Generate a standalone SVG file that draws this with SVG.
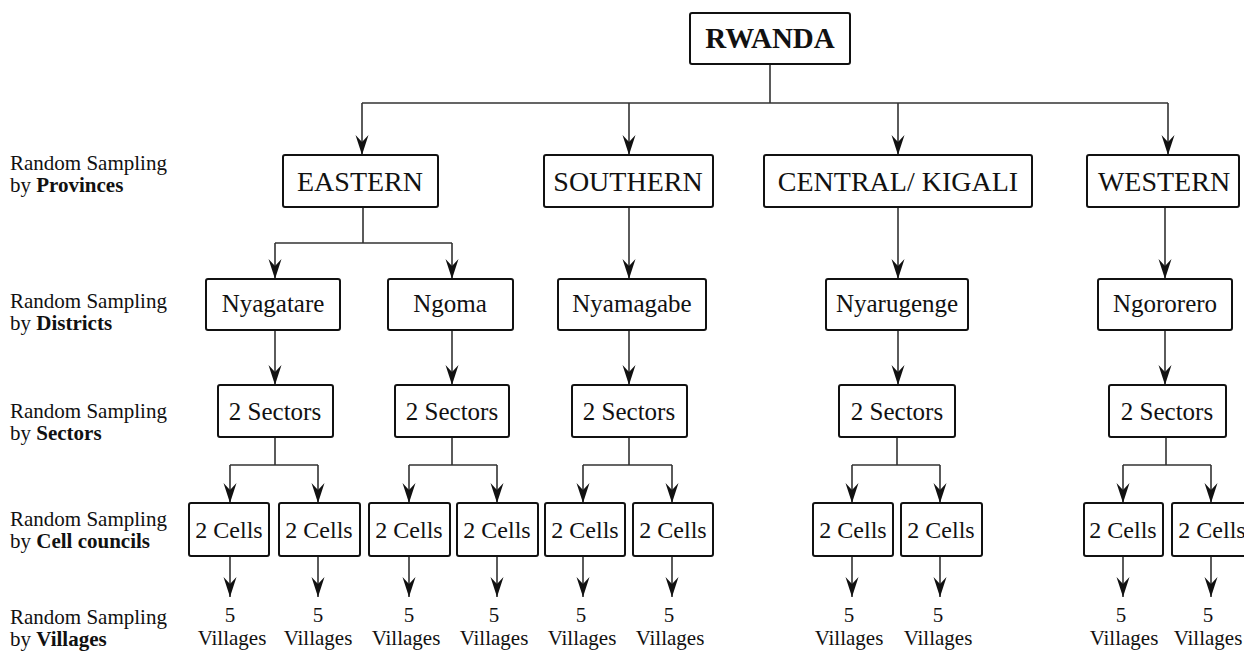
<svg xmlns="http://www.w3.org/2000/svg" width="1244" height="651" viewBox="0 0 1244 651" font-family="'Liberation Serif', Tinos, 'Times New Roman', 'DejaVu Serif', serif">
<defs>
<style>
text{font-family:'Liberation Serif', Tinos, 'Times New Roman', 'DejaVu Serif', serif;fill:#111}
.box{fill:#fff;stroke:#111;stroke-width:2}
.c{stroke:#333;stroke-width:1.6;fill:none}
.a{stroke:#333;stroke-width:1.6;fill:none;marker-end:url(#ah)}
.lab{font-size:21px}
.prov{font-size:28px;text-anchor:middle}
.dist{font-size:25px;text-anchor:middle}
.cell{font-size:24px;text-anchor:middle}
.vil{font-size:21px;text-anchor:middle}
</style>
<marker id="ah" markerUnits="userSpaceOnUse" markerWidth="24" markerHeight="16" viewBox="-22 -8 24 16" refX="0" refY="0" orient="auto" overflow="visible">
<path d="M0,0 L-20,-6.5 L-13,0 L-20,6.5 Z" fill="#111"/>
</marker>
</defs>
<rect width="1244" height="651" fill="#fff"/>

<g id="labels">
<text class="lab" x="10" y="170">Random Sampling<tspan x="10" dy="22">by </tspan><tspan font-weight="bold">Provinces</tspan></text>
<text class="lab" x="10" y="308">Random Sampling<tspan x="10" dy="22">by </tspan><tspan font-weight="bold">Districts</tspan></text>
<text class="lab" x="10" y="418">Random Sampling<tspan x="10" dy="22">by </tspan><tspan font-weight="bold">Sectors</tspan></text>
<text class="lab" x="10" y="526">Random Sampling<tspan x="10" dy="22">by </tspan><tspan font-weight="bold">Cell councils</tspan></text>
<text class="lab" x="10" y="624">Random Sampling<tspan x="10" dy="22">by </tspan><tspan font-weight="bold">Villages</tspan></text>
</g>

<g id="connectors">
<path class="c" d="M770,64 V103 M362,103 H1168"/>
<path class="a" d="M362,103 V155"/>
<path class="a" d="M629,103 V155"/>
<path class="a" d="M898,103 V155"/>
<path class="a" d="M1168,103 V155"/>

<path class="c" d="M363,207 V243 M275,243 H452"/>
<path class="a" d="M275,243 V279"/>
<path class="a" d="M452,243 V279"/>
<path class="a" d="M629,207 V279"/>
<path class="a" d="M898,207 V279"/>
<path class="a" d="M1165,207 V279"/>

<path class="a" d="M275,330 V385"/>
<path class="a" d="M452,330 V385"/>
<path class="a" d="M629,330 V385"/>
<path class="a" d="M898,330 V385"/>
<path class="a" d="M1165,330 V385"/>

<path class="c" d="M275,437 V465 M230,465 H318"/>
<path class="c" d="M452,437 V465 M409,465 H497"/>
<path class="c" d="M629,437 V465 M583,465 H672"/>
<path class="c" d="M897,437 V465 M852,465 H940"/>
<path class="c" d="M1166,437 V465 M1123,465 H1211"/>
<path class="a" d="M230,465 V503"/>
<path class="a" d="M318,465 V503"/>
<path class="a" d="M409,465 V503"/>
<path class="a" d="M497,465 V503"/>
<path class="a" d="M583,465 V503"/>
<path class="a" d="M672,465 V503"/>
<path class="a" d="M852,465 V503"/>
<path class="a" d="M940,465 V503"/>
<path class="a" d="M1123,465 V503"/>
<path class="a" d="M1211,465 V503"/>

<path class="a" d="M230,556 V597"/>
<path class="a" d="M318,556 V597"/>
<path class="a" d="M409,556 V597"/>
<path class="a" d="M497,556 V597"/>
<path class="a" d="M583,556 V597"/>
<path class="a" d="M672,556 V597"/>
<path class="a" d="M852,556 V597"/>
<path class="a" d="M940,556 V597"/>
<path class="a" d="M1123,556 V597"/>
<path class="a" d="M1211,556 V597"/>
</g>

<g id="rwanda">
<rect class="box" x="690" y="13" width="160" height="51" rx="2"/>
<text x="770" y="48" font-size="29" font-weight="bold" text-anchor="middle">RWANDA</text>
</g>

<g id="eastern"><rect class="box" x="283" y="155" width="155" height="52" rx="2"/><text class="prov" x="360" y="191">EASTERN</text></g>
<g id="southern"><rect class="box" x="544" y="155" width="169" height="52" rx="2"/><text class="prov" x="628" y="191">SOUTHERN</text></g>
<g id="central"><rect class="box" x="764" y="155" width="268" height="52" rx="2"/><text class="prov" x="898" y="191">CENTRAL/ KIGALI</text></g>
<g id="western"><rect class="box" x="1087" y="155" width="152" height="52" rx="2"/><text class="prov" x="1164" y="191">WESTERN</text></g>

<g id="nyagatare"><rect class="box" x="206" y="279" width="134" height="51" rx="2"/><text class="dist" x="273" y="312">Nyagatare</text></g>
<g id="ngoma"><rect class="box" x="388" y="279" width="125" height="51" rx="2"/><text class="dist" x="450" y="312">Ngoma</text></g>
<g id="nyamagabe"><rect class="box" x="558" y="279" width="148" height="51" rx="2"/><text class="dist" x="632" y="312">Nyamagabe</text></g>
<g id="nyarugenge"><rect class="box" x="826" y="279" width="142" height="51" rx="2"/><text class="dist" x="897" y="312">Nyarugenge</text></g>
<g id="ngororero"><rect class="box" x="1098" y="279" width="134" height="51" rx="2"/><text class="dist" x="1165" y="312">Ngororero</text></g>

<g id="sectors1"><rect class="box" x="218" y="385" width="115" height="52" rx="2"/><text class="dist" x="275" y="420">2 Sectors</text></g>
<g id="sectors2"><rect class="box" x="395" y="385" width="114" height="52" rx="2"/><text class="dist" x="452" y="420">2 Sectors</text></g>
<g id="sectors3"><rect class="box" x="572" y="385" width="115" height="52" rx="2"/><text class="dist" x="629" y="420">2 Sectors</text></g>
<g id="sectors4"><rect class="box" x="839" y="385" width="116" height="52" rx="2"/><text class="dist" x="897" y="420">2 Sectors</text></g>
<g id="sectors5"><rect class="box" x="1109" y="385" width="117" height="52" rx="2"/><text class="dist" x="1167" y="420">2 Sectors</text></g>

<g id="cells1"><rect class="box" x="189" y="503" width="80" height="53" rx="2"/><text class="cell" x="229" y="538">2 Cells</text></g>
<g id="cells2"><rect class="box" x="279" y="503" width="81" height="53" rx="2"/><text class="cell" x="319" y="538">2 Cells</text></g>
<g id="cells3"><rect class="box" x="369" y="503" width="81" height="53" rx="2"/><text class="cell" x="409" y="538">2 Cells</text></g>
<g id="cells4"><rect class="box" x="457" y="503" width="81" height="53" rx="2"/><text class="cell" x="497" y="538">2 Cells</text></g>
<g id="cells5"><rect class="box" x="545" y="503" width="80" height="53" rx="2"/><text class="cell" x="585" y="538">2 Cells</text></g>
<g id="cells6"><rect class="box" x="633" y="503" width="80" height="53" rx="2"/><text class="cell" x="673" y="538">2 Cells</text></g>
<g id="cells7"><rect class="box" x="813" y="503" width="80" height="53" rx="2"/><text class="cell" x="853" y="538">2 Cells</text></g>
<g id="cells8"><rect class="box" x="901" y="503" width="81" height="53" rx="2"/><text class="cell" x="941" y="538">2 Cells</text></g>
<g id="cells9"><rect class="box" x="1084" y="503" width="79" height="53" rx="2"/><text class="cell" x="1123" y="538">2 Cells</text></g>
<g id="cells10"><rect class="box" x="1172" y="503" width="80" height="53" rx="2"/><text class="cell" x="1212" y="538">2 Cells</text></g>

<g id="villages">
<g id="v1"><text class="vil" x="230" y="622">5</text><text class="vil" x="232" y="645">Villages</text></g>
<g id="v2"><text class="vil" x="318" y="622">5</text><text class="vil" x="318" y="645">Villages</text></g>
<g id="v3"><text class="vil" x="409" y="622">5</text><text class="vil" x="406" y="645">Villages</text></g>
<g id="v4"><text class="vil" x="494" y="622">5</text><text class="vil" x="494" y="645">Villages</text></g>
<g id="v5"><text class="vil" x="581" y="622">5</text><text class="vil" x="582" y="645">Villages</text></g>
<g id="v6"><text class="vil" x="669" y="622">5</text><text class="vil" x="670" y="645">Villages</text></g>
<g id="v7"><text class="vil" x="849" y="622">5</text><text class="vil" x="849" y="645">Villages</text></g>
<g id="v8"><text class="vil" x="938" y="622">5</text><text class="vil" x="938" y="645">Villages</text></g>
<g id="v9"><text class="vil" x="1121" y="622">5</text><text class="vil" x="1124" y="645">Villages</text></g>
<g id="v10"><text class="vil" x="1208" y="622">5</text><text class="vil" x="1208" y="645">Villages</text></g>
</g>
</svg>
